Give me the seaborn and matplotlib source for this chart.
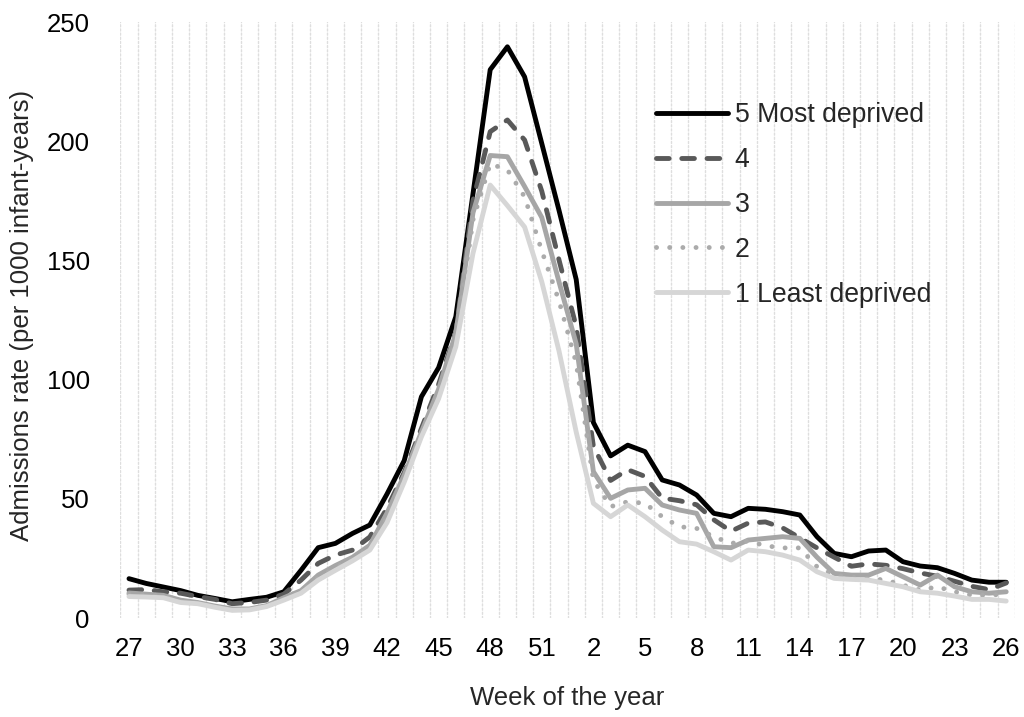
import numpy as np
import pandas as pd
import matplotlib
matplotlib.use('Agg')
import matplotlib.pyplot as plt
import seaborn as sns

# week of the year, July to June
weeks = list(range(27, 53)) + list(range(1, 27))
groups = ['5 Most deprived', '4', '3', '2', '1 Least deprived']

# admissions rate per 1000 infant-years
most_deprived = [16.5, 14.5, 13.0, 11.5, 9.5, 8.2, 6.8, 7.8, 8.7, 11.0,
                 20.0, 29.5, 31.3, 35.5, 39.0, 52.0, 66.0, 92.8, 105.0, 126.4,
                 178.0, 230.0, 239.6, 227.0, 199.0, 171.0, 142.0, 82.0, 68.0, 72.5,
                 69.8, 57.9, 55.8, 51.6, 43.9, 42.5, 46.0, 45.6, 44.6, 43.2,
                 34.1, 27.1, 25.7, 28.1, 28.5, 23.6, 21.8, 21.1, 18.7, 15.9,
                 15.0, 15.0]
quint4 = [11.7, 11.9, 11.0, 10.4, 9.0, 7.8, 6.0, 6.5, 7.5, 10.0,
          15.9, 22.9, 26.4, 28.5, 34.0, 46.0, 61.0, 79.5, 98.0, 120.0,
          175.0, 204.0, 208.9, 200.5, 179.0, 150.2, 122.2, 72.0, 57.7, 62.2,
          59.4, 50.3, 49.2, 47.5, 41.2, 36.4, 39.8, 40.3, 37.8, 33.6,
          29.4, 25.5, 21.7, 22.7, 22.1, 20.7, 18.9, 17.5, 15.4, 13.3,
          11.9, 14.7]
quint3 = [10.5, 10.0, 9.5, 7.5, 6.5, 5.0, 3.8, 3.8, 5.2, 8.5,
          11.5, 18.0, 22.0, 25.5, 30.5, 44.0, 60.0, 78.0, 96.0, 119.5,
          170.0, 194.0, 193.5, 181.0, 168.0, 141.0, 115.0, 61.4, 50.2, 53.7,
          54.4, 47.4, 45.3, 43.9, 29.9, 29.5, 32.7, 33.4, 34.1, 33.4,
          25.5, 18.7, 18.0, 18.0, 20.8, 17.3, 13.8, 18.0, 13.1, 11.0,
          10.4, 11.0]
quint2 = [10.0, 9.8, 9.3, 7.0, 6.2, 4.8, 3.5, 3.6, 5.0, 8.0,
          11.0, 17.0, 21.0, 24.8, 29.5, 42.0, 58.0, 77.0, 94.0, 116.0,
          167.0, 190.5, 188.0, 176.7, 154.0, 133.0, 107.0, 57.9, 46.7, 48.8,
          48.1, 42.5, 38.3, 37.6, 34.1, 31.3, 32.3, 30.3, 29.4, 29.4,
          21.5, 18.0, 17.1, 16.6, 15.9, 13.8, 11.7, 13.1, 11.0, 9.6,
          9.6, 10.0]
least_deprived = [9.0, 8.8, 8.5, 6.5, 6.0, 4.5, 3.2, 3.4, 4.8, 7.5,
                  10.4, 15.9, 20.0, 24.0, 28.5, 40.0, 57.0, 76.0, 92.0, 113.8,
                  153.0, 181.6, 173.0, 164.0, 141.0, 112.0, 78.0, 48.1, 42.5, 47.4,
                  42.5, 36.9, 32.0, 31.0, 27.8, 24.3, 28.5, 27.8, 26.4, 24.3,
                  19.4, 16.6, 16.2, 15.9, 14.5, 13.1, 11.0, 10.4, 9.2, 7.8,
                  7.8, 7.1]

colours = {'5 Most deprived': '#000000', '4': '#595959', '3': '#a6a6a6',
           '2': '#ababab', '1 Least deprived': '#d6d6d6'}
dashes = {'5 Most deprived': '', '4': (2.6, 2.6), '3': '',
          '2': (0.01, 2.7), '1 Least deprived': ''}

rows = []
for g, vals in zip(groups, [most_deprived, quint4, quint3, quint2, least_deprived]):
    for i, v in enumerate(vals):
        rows.append(dict(pos=i, week=weeks[i], group=g, rate=v))
df = pd.DataFrame(rows)

sns.set_style('white')
plt.rcParams['font.family'] = ['Liberation Sans', 'DejaVu Sans']
plt.rcParams['lines.dash_capstyle'] = 'round'
plt.rcParams['lines.solid_capstyle'] = 'round'
plt.rcParams['lines.solid_joinstyle'] = 'round'

fs = 18.5
lw = 3.5
fig = plt.figure(figsize=(10.24, 7.17), dpi=100)
ax = fig.add_axes([120.4 / 1024, 99 / 717, 894.4 / 1024, 596 / 717])

sns.lineplot(data=df, x='pos', y='rate', hue='group', style='group',
             hue_order=groups, style_order=groups, palette=colours,
             dashes=dashes, linewidth=lw, ax=ax)

ax.set_xlim(-0.5, 51.5)
ax.set_ylim(0, 250)
ax.set_xticks(range(0, 52, 3))
ax.set_xticklabels([str(w) for w in weeks[::3]])
ax.set_yticks(range(0, 251, 50))
ax.set_xticks(np.arange(-0.5, 52, 1), minor=True)
ax.grid(False)
ax.grid(True, which='minor', axis='x', color='#dedede',
        linestyle=(0, (1.5, 1.5)), linewidth=1.0)
ax.set_axisbelow(True)
ax.tick_params(which='both', length=0, labelsize=fs, colors='#000000')
ax.tick_params(axis='x', pad=14)
ax.tick_params(axis='y', pad=22)
for s in ax.spines.values():
    s.set_visible(False)
ax.set_xlabel('')
ax.set_ylabel('')

fig.text(22 / 1024, 1 - 315 / 717, 'Admissions rate (per 1000 infant-years)',
         rotation=90, ha='center', va='center', fontsize=fs)
fig.text(567.5 / 1024, 1 - 698 / 717, 'Week of the year',
         ha='center', va='center', fontsize=fs)

handles, labels = ax.get_legend_handles_labels()
keep = [(h, l) for h, l in zip(handles, labels) if l in groups]
leg = ax.legend([h for h, _ in keep], [l for _, l in keep],
                loc='upper left', bbox_to_anchor=(656 / 1024, 1 - 102 / 717),
                bbox_transform=fig.transFigure, frameon=False, fontsize=fs + 0.7,
                handlelength=2.7, handletextpad=0.25, labelspacing=0.71,
                borderpad=0, borderaxespad=0)
for line in leg.get_lines():
    line.set_linewidth(lw)

fig.savefig('out.png', dpi=100)
